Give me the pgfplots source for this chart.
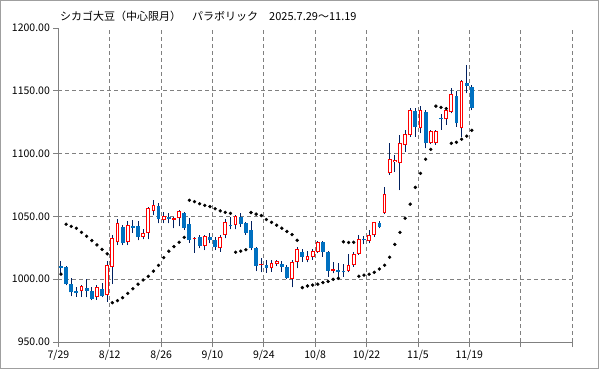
\documentclass[border=0pt]{standalone}
\usepackage{pgfplots}
\pgfplotsset{compat=1.18}
\usepackage{pgfplotstable}
\usepackage{fontspec}
\setmainfont{Noto Sans CJK JP}
\definecolor{bodyblue}{RGB}{0,112,192}
\definecolor{wick}{RGB}{0,32,96}
\definecolor{gridgray}{RGB}{128,128,128}
\definecolor{redc}{RGB}{255,0,0}

\pgfplotstableread{
i o h l c s
0 1010.5 1014.7 1003.3 1009.0 1004.0
1 1009.5 1010.5 995.0 996.0 1043.8
2 996.0 1000.7 986.6 989.5 1042.0
3 990.6 994.0 986.0 989.0 1040.5
4 990.3 995.0 986.0 994.3 1037.3
5 992.7 1000.0 985.5 990.8 1034.2
6 990.3 994.0 983.4 984.5 1030.8
7 985.5 995.4 983.5 993.5 1027.3
8 992.4 996.7 985.5 986.6 1023.7
9 987.1 1014.7 982.0 1011.0 1020.2
10 1009.4 1035.2 996.0 1032.5 981.3
11 1029.3 1047.6 1027.2 1044.5 982.9
12 1041.5 1043.4 1027.2 1028.5 985.3
13 1029.3 1046.6 1027.2 1043.1 988.7
14 1042.3 1047.0 1037.0 1041.0 992.4
15 1042.3 1046.0 1031.0 1033.8 996.0
16 1033.8 1039.7 1031.7 1036.5 999.4
17 1036.5 1057.2 1031.7 1056.4 1002.3
18 1054.5 1063.0 1051.0 1059.1 1006.4
19 1058.5 1060.9 1044.5 1047.6 1011.0
20 1046.8 1053.7 1044.5 1050.0 1017.2
21 1049.2 1052.4 1044.5 1047.6 1022.3
22 1047.4 1049.2 1040.5 1048.6 1026.0
23 1048.4 1055.0 1042.0 1054.5 1029.4
24 1053.0 1053.8 1039.2 1041.0 1033.3
25 1044.0 1048.4 1029.0 1031.2 1062.8
26 1031.7 1033.8 1021.1 1033.0 1061.8
27 1033.8 1035.2 1024.6 1026.7 1060.1
28 1026.7 1035.2 1023.2 1034.4 1058.8
29 1033.8 1036.5 1028.5 1031.2 1057.8
30 1031.2 1033.8 1023.2 1025.4 1056.1
31 1024.6 1035.2 1022.0 1033.3 1054.4
32 1035.2 1047.7 1032.5 1045.8 1053.2
33 1043.2 1049.8 1039.7 1042.1 1052.4
34 1043.2 1051.1 1039.7 1050.3 1021.5
35 1049.8 1053.0 1041.8 1043.7 1022.3
36 1044.5 1045.8 1035.2 1037.0 1023.5
37 1039.2 1046.6 1023.2 1024.6 1053.1
38 1024.6 1025.9 1006.5 1010.8 1051.8
39 1011.1 1016.6 1005.5 1012.3 1050.7
40 1011.3 1015.3 1005.2 1008.9 1047.5
41 1008.6 1015.3 1006.0 1012.6 1045.3
42 1012.1 1015.3 1010.5 1014.2 1043.0
43 1012.1 1014.5 1006.0 1010.0 1040.6
44 1010.0 1011.3 1000.2 1001.2 1038.0
45 1000.2 1015.3 993.5 1013.7 1035.5
46 1013.4 1025.9 1008.6 1023.8 1031.0
47 1021.7 1024.0 1014.0 1017.9 993.3
48 1015.0 1022.4 1013.4 1018.2 994.6
49 1017.4 1024.0 1015.3 1022.2 995.3
50 1021.4 1030.4 1020.6 1029.4 996.0
51 1029.4 1030.4 1018.0 1021.4 997.3
52 1021.4 1022.5 1002.0 1006.8 998.2
53 1006.5 1013.4 1004.7 1007.9 999.9
54 1007.1 1012.6 1001.2 1006.0 1000.7
55 1006.5 1011.8 1002.0 1005.5 1029.8
56 1006.3 1020.0 1005.5 1011.3 1029.2
57 1011.0 1022.0 1010.0 1020.0 1029.4
58 1020.1 1035.2 1019.3 1031.7 1002.4
59 1032.0 1034.4 1027.8 1031.0 1003.2
60 1030.4 1039.2 1028.5 1035.2 1004.0
61 1034.9 1045.8 1033.8 1045.3 1005.5
62 1044.7 1046.4 1040.5 1041.8 1008.1
63 1052.4 1073.4 1051.8 1067.8 1011.1
64 1084.3 1108.2 1083.0 1095.4 1017.5
65 1093.0 1098.9 1085.6 1094.8 1027.7
66 1092.2 1114.8 1071.0 1108.2 1037.3
67 1106.9 1118.8 1101.5 1115.3 1048.5
68 1114.8 1136.6 1113.5 1134.7 1059.7
69 1133.9 1136.0 1113.5 1121.4 1073.1
70 1120.1 1138.2 1116.1 1134.7 1084.3
71 1132.9 1134.7 1104.2 1108.2 1095.5
72 1108.2 1118.5 1107.5 1118.0 1103.4
73 1108.2 1118.5 1107.0 1118.0 1137.8
74 1128.6 1131.3 1118.8 1127.3 1136.8
75 1127.3 1137.4 1122.8 1134.7 1135.8
76 1133.4 1152.0 1132.0 1147.2 1108.2
77 1145.6 1150.0 1121.4 1124.1 1109.0
78 1120.1 1158.6 1113.5 1157.8 1111.4
79 1155.9 1170.5 1148.0 1153.8 1113.9
80 1153.0 1154.6 1134.7 1136.6 1118.5
}\candles

\begin{document}
\begin{tikzpicture}
\useasboundingbox (0,0) rectangle (599pt,369pt);
\draw[gray!75, line width=0.9pt] (0.5pt,0.5pt) rectangle (598.5pt,368.5pt);
\node[anchor=west, inner sep=0pt, font=\fontsize{11}{13}\selectfont] at (60pt,353pt) {シカゴ大豆（中心限月）　パラボリック　2025.7.29～11.19};
\begin{axis}[
  at={(58.4pt,27pt)}, anchor=south west,
  scale only axis, width=513.6pt, height=314pt,
  xmin=0, xmax=100, ymin=950, ymax=1200,
  axis x line*=bottom, axis y line*=left,
  axis line style={-, gridgray, line width=0.8pt},
  xtick={0,10,...,100},
  xticklabels={7/29,8/12,8/26,9/10,9/24,10/8,10/22,11/5,11/19,{},{}},
  ytick={950,1000,...,1200},
  extra y ticks={1000,1050,1100,1150},
  extra y tick labels={},
  extra y tick style={ymajorgrids=true, major tick length=0pt},
  xmajorgrids,
  grid style={gridgray, line width=0.8pt, dash pattern=on 4pt off 3pt},
  tick align=outside, major tick length=5pt,
  tick style={gridgray, line width=0.8pt},
  yticklabel style={/pgf/number format/.cd, fixed, fixed zerofill, precision=2, 1000 sep={}},
  /pgf/number format/assume math mode=true,
  ticklabel style={font=\fontsize{10.5}{12}\selectfont},
  clip=true,
  candle/.style={only marks, mark=*, mark size=0pt, mark options={draw=none, fill=none}, forget plot},
]
\addplot[candle,
  error bars/.cd, y dir=plus, y explicit, error mark=none,
  error bar style={draw=wick, line width=1pt}]
  table[x expr=\thisrow{i}+0.5, y=l, y error plus expr=\thisrow{h}-\thisrow{l}] {\candles};
\addplot[candle,
  restrict expr to domain={\thisrow{o}-\thisrow{c}}{0.01:1000},
  error bars/.cd, y dir=plus, y explicit, error mark=none,
  error bar style={draw=bodyblue, line width=3.8pt}]
  table[x expr=\thisrow{i}+0.5, y=c, y error plus expr=\thisrow{o}-\thisrow{c}] {\candles};
\addplot[candle,
  restrict expr to domain={\thisrow{c}-\thisrow{o}}{0.01:1000},
  error bars/.cd, y dir=plus, y explicit, error mark=none,
  error bar style={draw=redc, line width=3.8pt}]
  table[x expr=\thisrow{i}+0.5, y=o, y error plus expr=\thisrow{c}-\thisrow{o}] {\candles};
\addplot[candle,
  restrict expr to domain={\thisrow{c}-\thisrow{o}}{1.7:1000},
  error bars/.cd, y dir=plus, y explicit, error mark=none,
  error bar style={draw=white, line width=1.8pt}]
  table[x expr=\thisrow{i}+0.5, y expr=\thisrow{o}+0.8, y error plus expr=\thisrow{c}-\thisrow{o}-1.6] {\candles};
\addplot[only marks, mark=*, mark size=1.5pt, black, forget plot]
  table[x expr=\thisrow{i}+0.5, y=s] {\candles};
\end{axis}
\end{tikzpicture}
\end{document}
